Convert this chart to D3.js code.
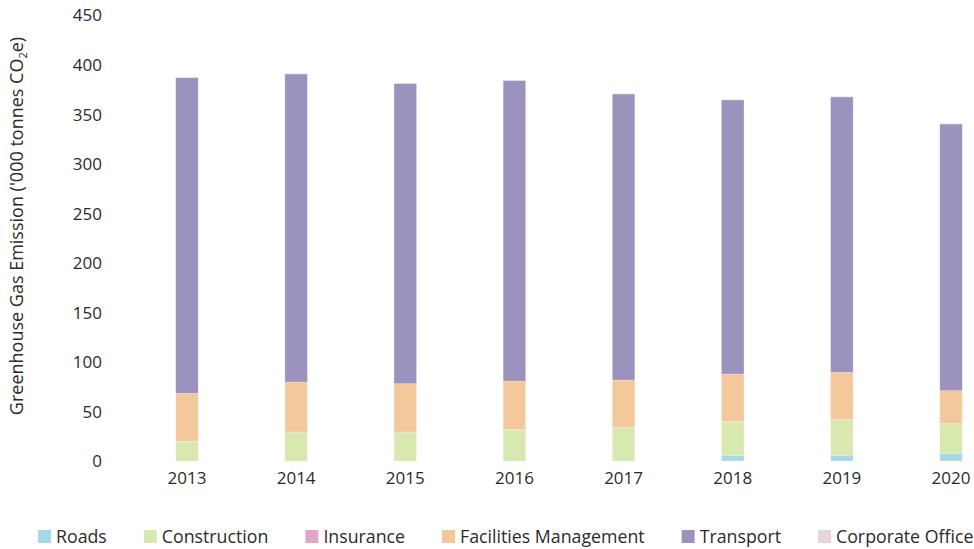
<!DOCTYPE html>
<html>
<head>
<meta charset="utf-8">
<script src="https://cdn.jsdelivr.net/npm/d3@7"></script>
<style>
  body { margin: 0; background: #fff; }
  svg text { font-family: "Open Sans", Lato, sans-serif; fill: #2e2a2a; }
</style>
</head>
<body>
<svg id="chart"></svg>
<script>
// years on the x axis
const years = ["2013", "2014", "2015", "2016", "2017", "2018", "2019", "2020"];
const seriesNames = ["Roads", "Construction", "Insurance", "Facilities Management", "Transport", "Corporate Office"];
const seriesColors = ["#a5d9e5", "#d7e9ae", "#e0a8c8", "#f3c99c", "#9b93bd", "#e7d4dc"];

// '000 tonnes CO2e
const roads        = [0, 0, 0, 0, 0, 5.3, 5.3, 7.4];
const construction = [19.5, 29, 29, 31.3, 33.3, 34.1, 36.1, 29.9];
const insurance    = [0.3, 0.3, 0.3, 0.3, 0.3, 0.3, 0.3, 0.5];
const facilities   = [48.5, 50.4, 48.7, 49.1, 48.1, 48.1, 47.8, 33.2];
const transport    = [318.5, 310.8, 303, 303.3, 288.6, 276.5, 277.8, 269];
const corporate    = [0.5, 0.5, 0.5, 0.5, 0.5, 0.5, 0.5, 0.5];

const yTicks = [0, 50, 100, 150, 200, 250, 300, 350, 400, 450];

const allSeries = [roads, construction, insurance, facilities, transport, corporate];
const rows = years.map((yr, i) => {
    let r = { year: yr };
    seriesNames.forEach((s, k) => r[s] = allSeries[k][i]);
    return r;
});

const width = 974, height = 549;

let svg = d3.select("#chart")
    .attr("width", width)
    .attr("height", height);

let x = d3.scaleBand()
    .domain(years)
    .range([132.4, 1005.6])
    .paddingInner(0.794)
    .paddingOuter(0.397);

let y = d3.scaleLinear()
    .domain([0, 450])
    .range([461, 15]);

let stacked = d3.stack().keys(seriesNames)(rows);

let color = d3.scaleOrdinal().domain(seriesNames).range(seriesColors);

svg.append("g")
    .selectAll("g")
    .data(stacked)
    .join("g")
    .attr("fill", d => color(d.key))
    .selectAll("rect")
    .data(d => d)
    .join("rect")
    .attr("x", d => x(d.data.year))
    .attr("width", x.bandwidth())
    .attr("y", d => y(d[1]))
    .attr("height", d => Math.max(0, y(d[0]) - y(d[1])))
    .attr("stroke", "#fff")
    .attr("stroke-opacity", 0.35)
    .attr("stroke-width", 0.6);

// y axis: labels only
let yAxis = svg.append("g")
    .attr("transform", "translate(102,0.5)")
    .call(d3.axisLeft(y).tickValues(yTicks).tickSize(0).tickPadding(0));
yAxis.select(".domain").remove();
yAxis.selectAll("text").attr("font-size", 17).attr("font-family", null);

// x axis: labels only
let xAxis = svg.append("g")
    .attr("transform", "translate(0,472)")
    .call(d3.axisBottom(x).tickSize(0).tickPadding(0));
xAxis.select(".domain").remove();
xAxis.selectAll("text").attr("font-size", 17).attr("font-family", null);

// y axis title
let title = svg.append("text")
    .attr("transform", "translate(23,226) rotate(-90)")
    .attr("text-anchor", "middle")
    .attr("font-size", 18);
title.append("tspan").text("Greenhouse Gas Emission ('000 tonnes CO");
title.append("tspan").attr("font-size", 11).attr("dy", 4).text("2");
title.append("tspan").attr("dy", -4).text("e)");

// legend
let legend = svg.append("g").attr("transform", "translate(38,530)");
let lx = 0;
seriesNames.forEach((name, k) => {
    let item = legend.append("g").attr("transform", `translate(${lx},0)`);
    item.append("rect")
        .attr("width", 13)
        .attr("height", 13)
        .attr("fill", seriesColors[k]);
    let t = item.append("text")
        .attr("x", 18)
        .attr("y", 12.5)
        .attr("font-size", 17.75)
        .text(name);
    lx += 18 + t.node().getComputedTextLength() + 37;
});
</script>
</body>
</html>
